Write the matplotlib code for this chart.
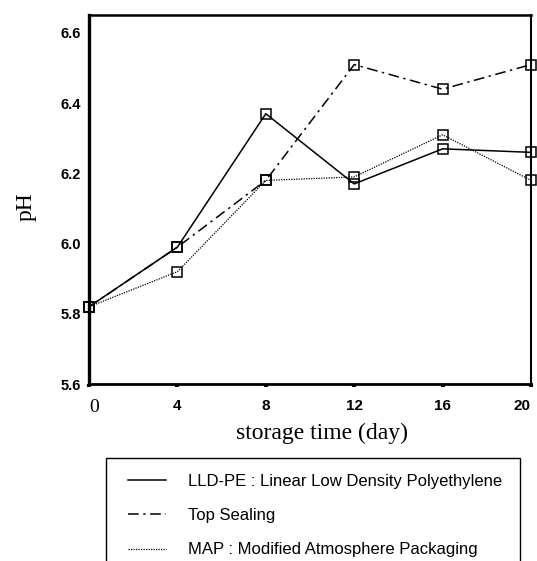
import matplotlib
matplotlib.use('Agg')
import matplotlib.pyplot as plt
from matplotlib.patches import Rectangle

# storage time (day) and pH readings
days = [0, 4, 8, 12, 16, 20]
lldpe = [5.82, 5.99, 6.37, 6.17, 6.27, 6.26]
top_sealing = [5.82, 5.99, 6.18, 6.51, 6.44, 6.51]
map_pack = [5.82, 5.92, 6.18, 6.19, 6.31, 6.18]

labels = ['LLD-PE : Linear Low Density Polyethylene',
          'Top Sealing',
          'MAP : Modified Atmosphere Packaging']
yticks = [5.6, 5.8, 6.0, 6.2, 6.4, 6.6]

W, H = 537, 561
fig = plt.figure(figsize=(W / 100, H / 100), dpi=100)
ax = fig.add_axes([89 / W, 1 - 384 / H, (531 - 89) / W, (384 - 15) / H])

mk = dict(marker='s', markersize=6.5, mfc='none', mec='black', mew=1.1, color='black', clip_on=False)
l1, = ax.plot(days, lldpe, linestyle='-', linewidth=1.1, **mk)
l2, = ax.plot(days, top_sealing, linestyle=(0, (7, 3, 1.5, 3)), linewidth=1.1, **mk)
l3, = ax.plot(days, map_pack, linestyle=(0, (1, 1)), linewidth=0.9, **mk)

ax.set_xlim(0, 20)
ax.set_ylim(5.6, 5.6 + 369 / 351)
ax.set_xticks(days)
ax.set_yticks(yticks)
ax.set_yticklabels([f'{v:.1f}' for v in yticks], fontfamily='Liberation Sans',
                   fontweight='bold', fontsize=10.5)
ax.set_xticklabels([str(d) for d in days], fontfamily='Liberation Sans',
                   fontweight='bold', fontsize=11)
xl = ax.get_xticklabels()
# the zero label is set in a serif face in the original
xl[0].set_fontfamily('Liberation Serif')
xl[0].set_fontweight('normal')
xl[0].set_fontsize(14)
xl[0].set_horizontalalignment('left')
xl[-1].set_horizontalalignment('right')

ax.tick_params(axis='y', length=0, pad=6)
ax.tick_params(axis='x', direction='out', length=2.5, width=3, pad=8)

for side, lw in [('left', 2.4), ('bottom', 2.0), ('top', 1.8), ('right', 1.5)]:
    ax.spines[side].set_linewidth(lw)

ax.set_xlabel('storage time (day)', fontfamily='Liberation Serif', fontsize=17)
ax.xaxis.set_label_coords((322 - 89) / 442, -(423 - 384) / 369)
ax.set_ylabel('pH', fontfamily='Liberation Serif', fontsize=17)
ax.yaxis.set_label_coords((37 - 89) / 442, (384 - 207) / 369)

# legend below the plot, box cut off at the bottom of the figure
fig.legend([l1, l2, l3], labels, loc='upper left',
           bbox_to_anchor=(128 / W, 1 - 474 / H), frameon=False,
           prop={'family': 'Liberation Sans', 'size': 12},
           handlelength=2.3, handletextpad=1.3, labelspacing=1.15,
           borderpad=0, borderaxespad=0, markerscale=0)
for h in fig.legends[0].legend_handles:
    h.set_marker('')
fig.patches.append(Rectangle((106 / W, -0.05), (520 - 106) / W, 0.05 + 1 - 458 / H,
                             transform=fig.transFigure, fill=False, edgecolor='black',
                             linewidth=1.0, clip_on=False))

fig.savefig('out.png', dpi=100)
